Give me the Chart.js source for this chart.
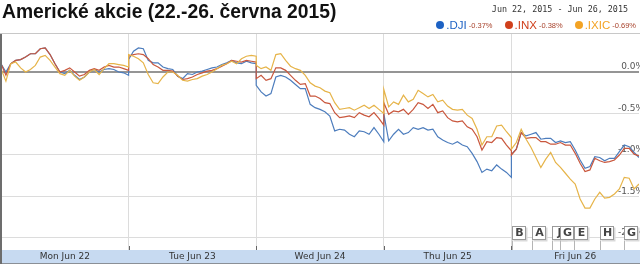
<!DOCTYPE html>
<html lang="cs">
<head>
<meta charset="utf-8">
<title>Americké akcie (22.-26. června 2015)</title>
<script src="https://cdn.jsdelivr.net/npm/chart.js@4.4.1/dist/chart.umd.min.js"></script>
<style>
    html, body { margin: 0; padding: 0; background: #fff; }
    #wrap { position: relative; width: 640px; height: 264px; overflow: hidden; }
    #chart { position: absolute; left: 0; top: 0; }
    #header { position: absolute; left: 0; top: 0; width: 640px; height: 33px; border-bottom: 1px solid #c8c8c8; }
    #title { position: absolute; left: 2px; top: 1px; font: bold 19.3px "Liberation Sans", Arial, sans-serif; color: #111; white-space: nowrap; }
    #range { position: absolute; right: 12px; top: 4px; font: 8.4px "DejaVu Sans Mono", monospace; color: #333; white-space: nowrap; }
    #legend { position: absolute; right: 4px; top: 19px; height: 12px; display: flex; align-items: center; white-space: nowrap; font-family: "Liberation Sans", Arial, sans-serif; }
    #legend .dot { display: inline-block; width: 8px; height: 8px; border-radius: 50%; margin-right: 2px; }
    #legend .sym { font-size: 11.5px; margin-right: 2px; }
    #legend .chg { font-size: 7.5px; color: #a8432c; margin-right: 12px; }
    #legend .chg:last-child { margin-right: 0; }
</style>
</head>
<body>
<div id="wrap">
    <canvas id="chart" width="640" height="264"></canvas>
    <div id="header">
        <div id="title">Americké akcie (22.-26. června 2015)</div>
        <div id="range">Jun 22, 2015 - Jun 26, 2015</div>
        <div id="legend"></div>
    </div>
</div>
<script>
// ===== DATA =====
// 15-minute samples, 9:30-16:00 for each trading day (27 per day), % change
const days = ['Mon Jun 22', 'Tue Jun 23', 'Wed Jun 24', 'Thu Jun 25', 'Fri Jun 26'];
const pointsPerDay = 27;

const dji = [
    // Mon
    0.10, 0.00, 0.10, 0.14, 0.15, 0.18, 0.22, 0.22, 0.28, 0.29, 0.21, 0.10, 0.00, -0.02,
    0.02, -0.04, -0.09, -0.06, 0.00, 0.03, 0.00, 0.03, 0.04, 0.03, 0.00, -0.01, -0.04,
    // Tue
    0.15, 0.25, 0.29, 0.28, 0.14, 0.11, 0.11, 0.06, 0.04, 0.03, -0.05, -0.08, -0.02, -0.03,
    0.00, 0.01, 0.03, 0.05, 0.06, 0.09, 0.11, 0.14, 0.11, 0.10, 0.13, 0.11, 0.10,
    // Wed
    -0.16, -0.24, -0.29, -0.26, -0.06, -0.04, -0.06, -0.10, -0.15, -0.20, -0.20, -0.39, -0.43, -0.45,
    -0.48, -0.53, -0.71, -0.69, -0.70, -0.75, -0.78, -0.71, -0.72, -0.75, -0.67, -0.75, -0.84,
    // Thu
    -0.50, -0.83, -0.75, -0.69, -0.75, -0.73, -0.67, -0.69, -0.67, -0.70, -0.69, -0.78, -0.82, -0.85,
    -0.87, -0.84, -0.88, -0.90, -0.98, -1.08, -1.21, -1.17, -1.19, -1.12, -1.17, -1.21, -1.27,
    // Fri
    -0.99, -0.93, -0.73, -0.77, -0.75, -0.73, -0.81, -0.80, -0.80, -0.85, -0.83, -0.85, -0.84, -0.94,
    -1.06, -1.16, -1.14, -1.02, -1.03, -1.07, -1.04, -1.04, -0.96, -0.88, -0.90, -0.97, -1.03
];

const inx = [
    // Mon
    0.10, -0.04, 0.10, 0.14, 0.15, 0.18, 0.22, 0.22, 0.28, 0.29, 0.21, 0.10, 0.00, 0.02,
    0.05, 0.00, -0.05, -0.03, 0.02, 0.04, 0.02, 0.06, 0.08, 0.06, 0.06, 0.04, 0.02,
    // Tue
    0.19, 0.21, 0.22, 0.21, 0.16, 0.09, 0.06, 0.02, 0.02, 0.01, -0.05, -0.09, -0.08, -0.06,
    -0.03, -0.01, 0.01, 0.02, 0.04, 0.07, 0.10, 0.14, 0.13, 0.12, 0.14, 0.13, 0.12,
    // Wed
    -0.08, -0.04, -0.10, -0.08, 0.05, 0.05, 0.02, -0.04, -0.10, -0.15, -0.14, -0.29, -0.29, -0.32,
    -0.37, -0.38, -0.49, -0.55, -0.54, -0.53, -0.55, -0.49, -0.52, -0.54, -0.49, -0.56, -0.64,
    // Thu
    -0.37, -0.51, -0.47, -0.48, -0.45, -0.51, -0.45, -0.37, -0.39, -0.44, -0.39, -0.49, -0.47, -0.55,
    -0.59, -0.60, -0.59, -0.66, -0.69, -0.78, -0.94, -0.84, -0.85, -0.79, -0.80, -0.88, -0.95,
    // Fri
    -1.00, -0.93, -0.73, -0.80, -0.79, -0.79, -0.84, -0.84, -0.87, -0.87, -0.85, -0.88, -0.88, -0.98,
    -1.10, -1.20, -1.18, -1.04, -1.07, -1.09, -1.08, -1.06, -1.00, -0.92, -0.92, -0.99, -1.01
];

const ixic = [
    // Mon
    0.04, -0.11, 0.10, 0.12, 0.05, 0.00, 0.03, 0.08, 0.18, 0.20, 0.14, 0.06, -0.02, -0.04,
    0.02, -0.05, -0.10, -0.06, 0.00, 0.03, -0.03, 0.04, 0.10, 0.10, 0.09, 0.08, 0.06,
    // Tue
    0.21, 0.19, 0.16, 0.11, -0.03, -0.13, -0.14, -0.06, 0.00, 0.00, -0.04, -0.10, -0.11, -0.09,
    -0.08, -0.05, -0.03, 0.00, 0.04, 0.08, 0.10, 0.13, 0.10, 0.16, 0.19, 0.20, 0.19,
    // Wed
    0.08, 0.04, 0.06, 0.02, 0.21, 0.22, 0.14, 0.07, 0.04, 0.02, -0.04, -0.13, -0.17, -0.19,
    -0.23, -0.25, -0.37, -0.45, -0.44, -0.43, -0.46, -0.43, -0.40, -0.44, -0.40, -0.45, -0.50,
    // Thu
    -0.21, -0.42, -0.36, -0.39, -0.28, -0.36, -0.33, -0.22, -0.26, -0.30, -0.27, -0.36, -0.34, -0.41,
    -0.45, -0.46, -0.45, -0.52, -0.56, -0.69, -0.88, -0.78, -0.78, -0.65, -0.64, -0.72, -0.79,
    // Fri
    -0.93, -0.85, -0.69, -0.81, -0.91, -1.03, -1.15, -1.05, -0.97, -1.09, -1.15, -1.22, -1.29, -1.35,
    -1.53, -1.64, -1.64, -1.53, -1.45, -1.52, -1.51, -1.47, -1.41, -1.27, -1.28, -1.41, -1.35
];

const seriesNames = ['.DJI', '.INX', '.IXIC'];
const weekChanges = ['-0.37%', '-0.38%', '-0.69%'];
const yTicks = [0, -0.5, -1.0, -1.5, -2.0];

// news flags along the bottom (letter, sample position on the time axis)
const flagLetters = ['B', 'A', 'J', 'G', 'E', 'H', 'G'];
const flagTimes = [104.2, 108.1, 112.3, 114.0, 116.8, 122.1, 127.0];

// ===== STYLES =====
const lineColors = ['#4d7dbd', '#c9573d', '#e6b449'];
const legendColors = ['#1d62c4', '#d0401c', '#f3a324'];

// ===== FUNCTIONS =====

/**
 * Turn a flat series into {x, y} points, each day sharing its edge with the next
 */
function toPoints(values) {
    const steps = pointsPerDay - 1;
    return values.map((v, i) => ({
        x: Math.floor(i / pointsPerDay) * steps + (i % pointsPerDay),
        y: v
    }));
}

/**
 * Build the legend row in the header
 */
function buildLegend() {
    const legend = document.getElementById('legend');
    seriesNames.forEach((name, i) => {
        const dot = document.createElement('span');
        dot.className = 'dot';
        dot.style.background = legendColors[i];
        const sym = document.createElement('span');
        sym.className = 'sym';
        sym.style.color = legendColors[i];
        sym.textContent = name;
        const chg = document.createElement('span');
        chg.className = 'chg';
        chg.textContent = weekChanges[i];
        legend.append(dot, sym, chg);
    });
}

const daySpan = pointsPerDay - 1;
const xMax = daySpan * days.length;

// axis band, frame, day tick marks and the news flags
const framePlugin = {
    id: 'frame',
    beforeDraw(chart) {
        const { ctx, chartArea } = chart;
        ctx.save();
        ctx.fillStyle = '#c7daf1';
        ctx.fillRect(0, chartArea.bottom, chart.width, chart.height - chartArea.bottom);
        ctx.strokeStyle = '#8a8f96';
        ctx.lineWidth = 1;
        ctx.beginPath();
        ctx.moveTo(0, chart.height - 0.5);
        ctx.lineTo(chart.width, chart.height - 0.5);
        ctx.stroke();
        ctx.restore();
    },
    afterDraw(chart) {
        const { ctx, chartArea, scales } = chart;
        ctx.save();
        // day tick marks
        ctx.strokeStyle = '#666';
        ctx.lineWidth = 1;
        for (let d = 1; d < days.length; d++) {
            const px = Math.round(scales.x.getPixelForValue(d * daySpan)) + 0.5;
            ctx.beginPath();
            ctx.moveTo(px, chartArea.bottom - 4);
            ctx.lineTo(px, chartArea.bottom);
            ctx.stroke();
        }
        // left frame
        ctx.strokeStyle = '#6d6d6d';
        ctx.lineWidth = 2;
        ctx.beginPath();
        ctx.moveTo(1, chartArea.top - 1);
        ctx.lineTo(1, chart.height);
        ctx.stroke();

        // flags
        flagLetters.forEach((letter, i) => {
            const px = Math.round(scales.x.getPixelForValue(flagTimes[i])) + 0.5;
            const top = chartArea.bottom - 23.5;
            ctx.strokeStyle = '#b5b5b5';
            ctx.lineWidth = 1;
            ctx.beginPath();
            ctx.moveTo(px, top + 14);
            ctx.lineTo(px, chartArea.bottom);
            ctx.stroke();
            ctx.fillStyle = '#d9d9d9';
            ctx.fillRect(px + 1, top + 1, 14, 14);
            ctx.fillStyle = '#fff';
            ctx.fillRect(px, top, 13, 13);
            ctx.strokeStyle = '#9a9a9a';
            ctx.strokeRect(px, top, 13, 13);
            ctx.fillStyle = '#444';
            ctx.font = 'bold 11px "DejaVu Sans", sans-serif';
            ctx.textAlign = 'center';
            ctx.textBaseline = 'middle';
            ctx.fillText(letter, px + 7, top + 7);
        });
        ctx.restore();
    }
};

function initChart() {
    const ctx = document.getElementById('chart').getContext('2d');
    const series = [ixic, inx, dji];
    const order = [2, 1, 0];

    new Chart(ctx, {
        type: 'line',
        data: {
            datasets: series.map((values, i) => ({
                label: seriesNames[order[i]],
                data: toPoints(values),
                borderColor: lineColors[order[i]],
                borderWidth: 1.2,
                pointRadius: 0,
                tension: 0,
                fill: false
            }))
        },
        options: {
            responsive: false,
            animation: false,
            devicePixelRatio: 1,
            layout: { padding: { top: 34, left: 0, right: 0, bottom: 0 } },
            plugins: {
                legend: { display: false },
                title: { display: false },
                tooltip: { enabled: false }
            },
            scales: {
                x: {
                    type: 'linear',
                    min: 0,
                    max: xMax,
                    afterBuildTicks: scale => {
                        const ticks = [];
                        for (let v = 0; v <= xMax; v += daySpan / 2) ticks.push({ value: v });
                        scale.ticks = ticks;
                    },
                    afterFit: scale => { scale.height = 14; },
                    border: { display: false },
                    grid: {
                        drawTicks: false,
                        color: c => {
                            const v = c.tick ? c.tick.value : 0;
                            return (v % daySpan === 0 && v > 0 && v < xMax) ? '#dcdcdc' : 'rgba(0,0,0,0)';
                        }
                    },
                    ticks: {
                        autoSkip: false,
                        maxRotation: 0,
                        padding: 1,
                        color: '#333',
                        font: { family: 'DejaVu Sans', size: 9 },
                        callback: v => (v % daySpan === daySpan / 2) ? days[(v - daySpan / 2) / daySpan] : ''
                    }
                },
                y: {
                    position: 'right',
                    min: -2.145,
                    max: 0.458,
                    afterBuildTicks: scale => { scale.ticks = yTicks.map(v => ({ value: v })); },
                    afterFit: scale => { scale.width = 0; },
                    border: { display: false },
                    grid: {
                        drawTicks: false,
                        color: c => (c.tick && c.tick.value === 0) ? '#959595' : '#dcdcdc',
                        lineWidth: c => (c.tick && c.tick.value === 0) ? 2 : 1
                    },
                    ticks: {
                        mirror: true,
                        padding: 5,
                        labelOffset: -5,
                        color: '#555',
                        font: { family: 'DejaVu Sans', size: 9 },
                        callback: v => v.toFixed(1) + '%'
                    }
                }
            }
        },
        plugins: [framePlugin]
    });
}

buildLegend();
initChart();
</script>
</body>
</html>
